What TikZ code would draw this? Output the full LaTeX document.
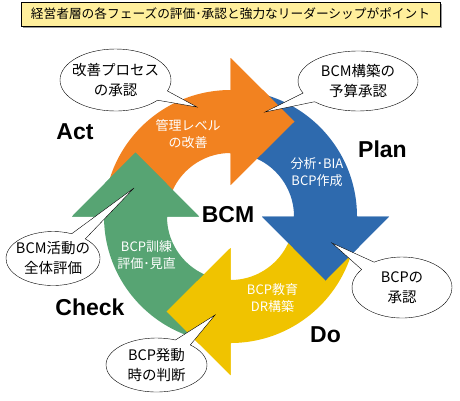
\documentclass[tikz,border=0pt]{standalone}
\usepackage{fontspec}
\setmainfont{Liberation Sans}
\newfontfamily\jpfont{Noto Sans CJK JP}
\usepackage{xcolor}
\usetikzlibrary{shapes.callouts,shadows}
\definecolor{CycOrange}{HTML}{F28220}
\definecolor{CycBlue}{HTML}{2E6AAE}
\definecolor{CycYellow}{HTML}{F0C300}
\definecolor{CycGreen}{HTML}{57A473}
\definecolor{TitleYellow}{HTML}{FFEF9C}

\newcommand\cyclearrow[2]{%
  \fill[#1,rotate=#2] (180:126.5) arc[start angle=180,end angle=90,radius=126.5]
    -- (0,158.5) -- (64,95) -- (0,31.5) -- (0,63.5)
    arc[start angle=90,end angle=180,radius=63.5] -- cycle;}
\newcommand\cyclehead[2]{%
  \fill[#1,rotate=#2] (0,158.5) -- (64,95) -- (0,31.5) -- (0,63.5) -- (-1,63.5)
    -- (-1,126.5) -- (0,126.5) -- cycle;}

\begin{document}
\begin{tikzpicture}[x=1pt,y=1pt,
  phase/.style={font=\fontsize{23}{23}\selectfont\bfseries},
  inlabel/.style={text=white, align=center, font=\jpfont\fontsize{13}{17}\selectfont},
  bubble/.style={ellipse callout, draw=black, fill=white, align=center,
    inner xsep=-8pt, inner ysep=0pt, callout pointer arc=20,
    font=\jpfont\fontsize{14.5}{20}\selectfont}]
\useasboundingbox (0,0) rectangle (460,-400);

\node[draw=black, fill=TitleYellow, minimum width=419pt, minimum height=24pt, inner sep=0pt,
  drop shadow={shadow xshift=2pt, shadow yshift=-2pt, fill=gray!80, opacity=1},
  font=\jpfont\fontsize{12.7}{13}\selectfont] (title) at (230.5,-14)
  {経営者層の各フェーズの評価･承認と強力なリーダーシップがポイント};

\begin{scope}[shift={(230.5,-216.5)}]
\cyclearrow{CycOrange}{0}
\cyclearrow{CycBlue}{-90}
\cyclearrow{CycYellow}{-180}
\cyclearrow{CycGreen}{90}
\cyclehead{CycOrange}{0}
\cyclehead{CycBlue}{-90}
\cyclehead{CycYellow}{-180}
\cyclehead{CycGreen}{90}
\end{scope}

\node[phase] (bcm) at (228,-215) {BCM};
\node[phase] (act) at (75,-132) {Act};
\node[phase] (plan) at (382.5,-149) {Plan};
\node[phase] (do) at (325.5,-335) {Do};
\node[phase] (check) at (90,-307.5) {Check};

\node[inlabel] (lblact) at (188,-134) {管理レベル\\の改善};
\node[inlabel] (lblplan) at (317,-172) {分析･BIA\\BCP作成};
\node[inlabel] (lbldo) at (272.5,-298) {BCP教育\\DR構築};
\node[inlabel] (lblcheck) at (146.5,-255.5) {BCP訓練\\評価･見直};

\coordinate (ptact) at (197,-107);
\coordinate (ptplan) at (265,-112);
\coordinate (ptcheck) at (134,-188);
\coordinate (ptdo) at (215,-315);
\coordinate (ptapprove) at (332,-243);

\node[bubble, minimum width=111pt, minimum height=62pt, callout absolute pointer={(ptact)}]
  (bubact) at (115.5,-80) {改善プロセス\\の承認};
\node[bubble, minimum width=120pt, minimum height=60pt, callout absolute pointer={(ptplan)}]
  (bubplan) at (358,-81) {BCM構築の\\予算承認};
\node[bubble, minimum width=94pt, minimum height=54pt, callout absolute pointer={(ptcheck)}]
  (bubcheck) at (53,-258.5) {BCM活動の\\全体評価};
\node[bubble, minimum width=101pt, minimum height=54pt, callout absolute pointer={(ptdo)}]
  (bubdo) at (156.5,-365) {BCP発動\\時の判断};
\node[bubble, minimum width=100pt, minimum height=61pt, callout absolute pointer={(ptapprove)}]
  (bubapprove) at (402,-287.5) {BCPの\\承認};
\end{tikzpicture}
\end{document}
